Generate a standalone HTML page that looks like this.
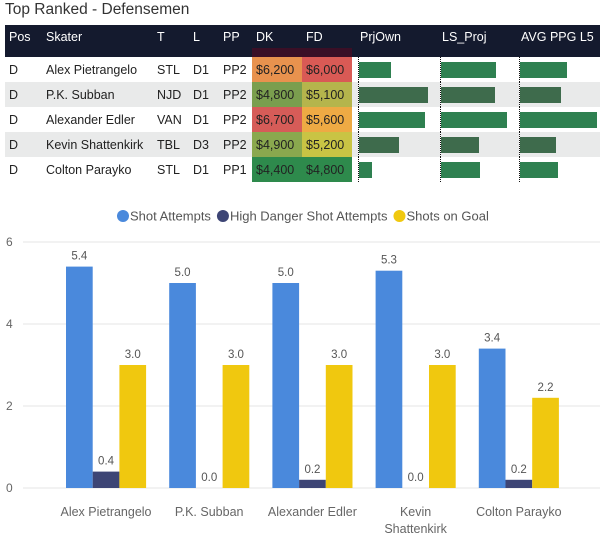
<!DOCTYPE html>
<html><head><meta charset="utf-8"><style>
body{margin:0;width:600px;height:551px;background:#fff;font-family:"Segoe UI","Liberation Sans",sans-serif;overflow:hidden;position:relative}
.title{position:absolute;left:5px;top:1px;font-size:15.5px;color:#333}
table{position:absolute;left:5px;top:25px;border-collapse:collapse;font-size:12.5px;color:#222;table-layout:fixed;width:595px}
th{background:#141a2e;color:#fff;font-weight:normal;text-align:left;height:23px;padding:0 0 0 4px;white-space:nowrap}
tr.sp td{height:9px;padding:0;background:#141a2e}
td{height:25px;padding:0 0 0 4px;white-space:nowrap;overflow:hidden}
tr.alt td{background:#e9eaea}
.bar{height:16px;background:#2e8050}
tr.alt .bar{background:#3e6b4c}
td.bc{border-left:1px dotted #111;padding-left:0}
th.bh{padding-left:2px}
td.g{padding:0}
</style></head><body>
<div class="title">Top Ranked - Defensemen</div>
<table>
<colgroup><col style="width:37px"><col style="width:111px"><col style="width:36px"><col style="width:30px"><col style="width:33px"><col style="width:50px"><col style="width:50px"><col style="width:6px"><col style="width:82px"><col style="width:79px"><col style="width:81px"></colgroup>
<tr><th>Pos</th><th>Skater</th><th>T</th><th>L</th><th>PP</th><th>DK</th><th>FD</th><th></th><th class="bh">PrjOwn</th><th class="bh">LS_Proj</th><th class="bh">AVG PPG L5</th></tr>
<tr class="sp"><td></td><td></td><td></td><td></td><td></td><td style="background:#3a0f26"></td><td style="background:#3a0f26"></td><td></td><td></td><td></td><td></td></tr>
<tbody id="tb"></tbody>
</table>
<svg id="ch" width="600" height="551" style="position:absolute;left:0;top:0"></svg>
<script>
const rows=[["D","Alex Pietrangelo","STL","D1","PP2","$6,200","#e8924e","$6,000","#d95a55",32,55,47],
["D","P.K. Subban","NJD","D1","PP2","$4,800","#7a9e4e","$5,100","#b5b54c",69,54,41],
["D","Alexander Edler","VAN","D1","PP2","$6,700","#d65c58","$5,600","#eeaa44",66,66,77],
["D","Kevin Shattenkirk","TBL","D3","PP2","$4,900","#8aa84e","$5,200","#c9c444",40,38,36],
["D","Colton Parayko","STL","D1","PP1","$4,400","#2e8a4c","$4,800","#2e8a4c",13,39,38]];
const tb=document.getElementById('tb');
rows.forEach((r,i)=>{const tr=document.createElement('tr');if(i%2)tr.className='alt';


let h='';for(let k=0;k<5;k++)h+=`<td>${r[k]}</td>`;
h+=`<td style="background:${r[6]}">${r[5]}</td><td style="background:${r[8]}">${r[7]}</td><td class="g"></td>`;
for(let k=9;k<12;k++)h+=`<td class="bc"><div class="bar" style="width:${r[k]}px"></div></td>`;
tr.innerHTML=h;tb.appendChild(tr);});

const players=["Alex Pietrangelo","P.K. Subban","Alexander Edler","Kevin|Shattenkirk","Colton Parayko"];
const shotAttempts=[5.4,5.0,5.0,5.3,3.4];
const highDanger=[0.4,0.0,0.2,0.0,0.2];
const shotsOnGoal=[3.0,3.0,3.0,3.0,2.2];
const yTicks=[0,2,4,6];
const series=[shotAttempts,highDanger,shotsOnGoal];
const colors=["#4a89dc","#3d4575","#f0c80f"];
const names=["Shot Attempts","High Danger Shot Attempts","Shots on Goal"];
const svg=document.getElementById('ch');const NS='http://www.w3.org/2000/svg';
function el(t,a,txt){const e=document.createElementNS(NS,t);for(const k in a)e.setAttribute(k,a[k]);if(txt!=null)e.textContent=txt;svg.appendChild(e);return e;}
const y=v=>488-v*41;const gx=i=>66+i*103.2;const bw=26.7;
yTicks.forEach(t=>{const l=el('line',{x1:23,x2:600,y1:y(t),y2:y(t),stroke:'#e6e6e6'});


const tx=el('text',{x:6,y:y(t)+4,'font-size':12,fill:'#666','font-family':'Liberation Sans'},t);

});
players.forEach((p,i)=>{series.forEach((s,j)=>{const x=gx(i)+j*bw;
const r=el('rect',{x:x,y:y(s[i]),width:bw,height:488-y(s[i]),fill:colors[j]});


const t=el('text',{x:x+bw/2,y:y(s[i])-7,'font-size':11.5,fill:'#555','text-anchor':'middle','font-family':'Liberation Sans'},s[i].toFixed(1));

});
p.split('|').forEach((ln,k)=>{const t=el('text',{x:gx(i)+40,y:516+k*17,'font-size':12.5,fill:'#666','text-anchor':'middle','font-family':'Liberation Sans'},ln);

});});
let lx=123;names.forEach((n,j)=>{const c=el('circle',{cx:lx,cy:216,r:6,fill:colors[j]});


const t=el('text',{x:lx+7,y:220.5,'font-size':13,fill:'#555','font-family':'Liberation Sans'},n);


lx+=t.getComputedTextLength()+19;});
</script>
</body></html>
